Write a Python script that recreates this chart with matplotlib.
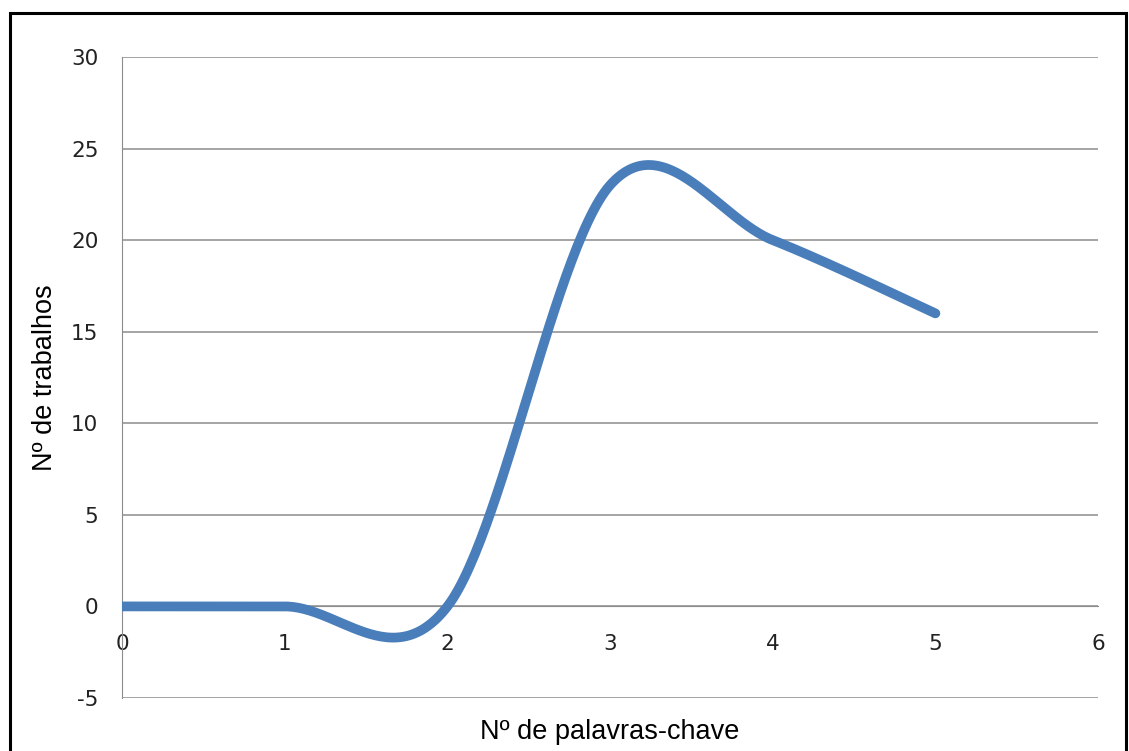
import numpy as np
import matplotlib.pyplot as plt
from matplotlib.patches import Rectangle

# Number of keywords per paper vs. number of papers
n_palavras = [0, 1, 2, 3, 4, 5]
n_trabalhos = [0, 0, 0, 23, 20, 16]

plt.rcParams['axes.unicode_minus'] = False


def smooth_curve(x, y, steps=60):
    """Catmull-Rom style Bezier smoothing through every point (spreadsheet 'smoothed line')."""
    x = np.asarray(x, float)
    y = np.asarray(y, float)
    px = np.concatenate([[x[0]], x, [x[-1]]])
    py = np.concatenate([[y[0]], y, [y[-1]]])
    xs, ys = [], []
    t = np.linspace(0, 1, steps)
    for i in range(1, len(px) - 2):
        p0 = np.array([px[i], py[i]])
        p3 = np.array([px[i + 1], py[i + 1]])
        c1 = p0 + (np.array([px[i + 1], py[i + 1]]) - np.array([px[i - 1], py[i - 1]])) / 6
        c2 = p3 - (np.array([px[i + 2], py[i + 2]]) - np.array([px[i], py[i]])) / 6
        b = ((1 - t) ** 3)[:, None] * p0 + (3 * t * (1 - t) ** 2)[:, None] * c1 \
            + (3 * t ** 2 * (1 - t))[:, None] * c2 + (t ** 3)[:, None] * p3
        xs.extend(b[:, 0])
        ys.extend(b[:, 1])
    return np.array(xs), np.array(ys)


fig = plt.figure(figsize=(11.29, 7.51), dpi=100)
ax = fig.add_axes([0.1081, 0.0706, 0.8645, 0.8535])

grid_col = '#8c8c8c'
for v in range(-5, 31, 5):
    ax.axhline(v, color=grid_col, lw=1.1, zorder=1)

sx, sy = smooth_curve(n_palavras, n_trabalhos)
ax.plot(sx, sy, color='#4a7ebb', lw=7, solid_capstyle='round', zorder=3)

ax.set_xlim(0, 6)
ax.set_ylim(-5, 30)
ax.set_xticks(range(0, 7))
ax.set_yticks(range(-5, 31, 5))

for side in ['top', 'right']:
    ax.spines[side].set_visible(False)
ax.spines['left'].set_color(grid_col)
ax.spines['bottom'].set_color(grid_col)
ax.spines['bottom'].set_position(('data', 0))

ax.tick_params(axis='both', length=0, labelsize=15.5, colors='#222222')
ax.tick_params(axis='x', pad=20)
ax.tick_params(axis='y', pad=17)

ax.set_xlabel('Nº de palavras-chave', fontsize=19.5, family='Liberation Sans')
ax.set_ylabel('Nº de trabalhos', fontsize=19.5, family='Liberation Sans')
ax.xaxis.set_label_coords(0.5, -0.033)
ax.yaxis.set_label_coords(-0.066, 0.5)

# outer chart frame
fig.patches.append(Rectangle((10 / 1129, -0.05), 1116 / 1129, 1.05 - 13 / 751,
                             transform=fig.transFigure, fill=False,
                             edgecolor='black', lw=2.2))

fig.savefig('out.png', dpi=100)
